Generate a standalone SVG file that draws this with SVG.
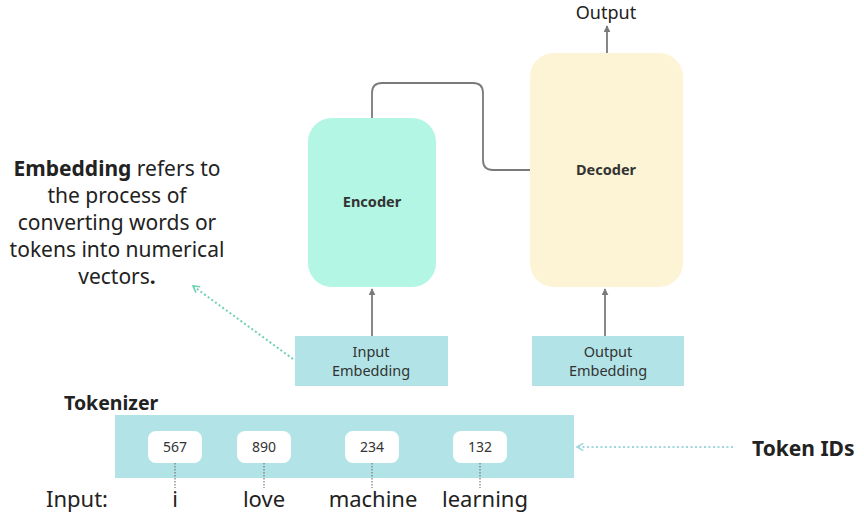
<svg xmlns="http://www.w3.org/2000/svg" width="864" height="522" viewBox="0 0 864 522">
<defs>
<marker id="ga" viewBox="0 0 10 10" refX="9" refY="5" markerWidth="7" markerHeight="7" orient="auto-start-reverse" markerUnits="userSpaceOnUse">
<path d="M0,0 L10,5 L0,10 z" fill="#7a7a7a"/>
</marker>
<marker id="ta" viewBox="0 0 10 10" refX="8" refY="5" markerWidth="9" markerHeight="9" orient="auto" markerUnits="userSpaceOnUse">
<path d="M1,1 L8,5 L1,9" fill="none" stroke="#6fd0b6" stroke-width="1.8"/>
</marker>
<marker id="ba" viewBox="0 0 10 10" refX="8" refY="5" markerWidth="9" markerHeight="9" orient="auto" markerUnits="userSpaceOnUse">
<path d="M1,1 L8,5 L1,9" fill="none" stroke="#9fd8dc" stroke-width="1.8"/>
</marker>
</defs>
<style>
text{font-family:"Noto Sans","Open Sans","Liberation Sans",sans-serif;fill:#222}
.b{font-weight:bold}
.lbl{font-size:14.5px;text-anchor:middle;fill:#333}
.emb{fill:#b2e3e6}
.tok{fill:#ffffff}
.num{font-size:14px;text-anchor:middle;fill:#333}
.word{font-size:22px;text-anchor:middle;fill:#222}
.desc{font-size:21px;text-anchor:middle;fill:#222}
.conn{fill:none;stroke:#7a7a7a;stroke-width:1.8}
.dot{fill:none;stroke:#777;stroke-width:1.2;stroke-dasharray:1.5 1.5}
</style>
<rect width="864" height="522" fill="#ffffff"/>

<g id="description">
<text class="desc" x="117" y="176"><tspan class="b">Embedding</tspan> refers to</text>
<text class="desc" x="117" y="203">the process of</text>
<text class="desc" x="117" y="230">converting words or</text>
<text class="desc" x="117" y="257">tokens into numerical</text>
<text class="desc" x="117" y="284">vectors<tspan class="b">.</tspan></text>
</g>

<g id="encoder">
<rect x="308" y="118" width="128" height="169" rx="24" fill="#b3f6e4"/>
<text class="lbl b" x="372" y="207" fill="#222" font-size="15">Encoder</text>
</g>

<g id="decoder">
<rect x="530" y="53" width="153" height="234" rx="24" fill="#fdf4d5"/>
<text class="lbl b" x="606" y="175" font-size="15">Decoder</text>
</g>

<g id="output">
<text x="606" y="19" font-size="18" text-anchor="middle" fill="#333">Output</text>
</g>

<g id="input-embedding">
<rect class="emb" x="295" y="336" width="153" height="50"/>
<text class="lbl" x="371" y="357">Input</text>
<text class="lbl" x="371" y="376">Embedding</text>
</g>

<g id="output-embedding">
<rect class="emb" x="532" y="336" width="152" height="50"/>
<text class="lbl" x="608" y="357">Output</text>
<text class="lbl" x="608" y="376">Embedding</text>
</g>

<g id="tokenizer">
<text class="b" x="64" y="410" font-size="19.5">Tokenizer</text>
<rect class="emb" x="115" y="415" width="459" height="63"/>
<rect class="tok" x="148" y="431" width="54" height="32" rx="8"/>
<text class="num" x="175" y="452">567</text>
<rect class="tok" x="237" y="431" width="54" height="32" rx="8"/>
<text class="num" x="264" y="452">890</text>
<rect class="tok" x="345" y="431" width="54" height="32" rx="8"/>
<text class="num" x="372" y="452">234</text>
<rect class="tok" x="453" y="431" width="54" height="32" rx="8"/>
<text class="num" x="480" y="452">132</text>
</g>

<g id="token-ids">
<text class="b" x="752" y="456" font-size="21">Token IDs</text>
</g>

<g id="inputs">
<text x="46" y="507" font-size="22" fill="#222">Input:</text>
<text class="word" x="175" y="507">i</text>
<text class="word" x="264" y="507">love</text>
<text class="word" x="373" y="507">machine</text>
<text class="word" x="485" y="507">learning</text>
</g>

<g id="connectors">
<path class="conn" d="M372,118 V93 Q372,83 382,83 H473 Q483,83 483,93 V160 Q483,170 493,170 H530"/>
<line class="conn" x1="372" y1="336" x2="372" y2="289" marker-end="url(#ga)"/>
<line class="conn" x1="605" y1="336" x2="605" y2="289" marker-end="url(#ga)"/>
<line class="conn" x1="607" y1="53" x2="607" y2="26" marker-end="url(#ga)"/>
<line x1="293" y1="359" x2="193" y2="286" stroke="#6fd0b6" stroke-width="2" stroke-dasharray="2 2.5" marker-end="url(#ta)"/>
<line x1="733" y1="447" x2="577" y2="447" stroke="#9fd8dc" stroke-width="2" stroke-dasharray="2 2.5" marker-end="url(#ba)"/>
<line class="dot" x1="175" y1="463" x2="175" y2="488"/>
<line class="dot" x1="264" y1="463" x2="264" y2="488"/>
<line class="dot" x1="372" y1="463" x2="372" y2="488"/>
<line class="dot" x1="480" y1="463" x2="480" y2="488"/>
</g>
</svg>
